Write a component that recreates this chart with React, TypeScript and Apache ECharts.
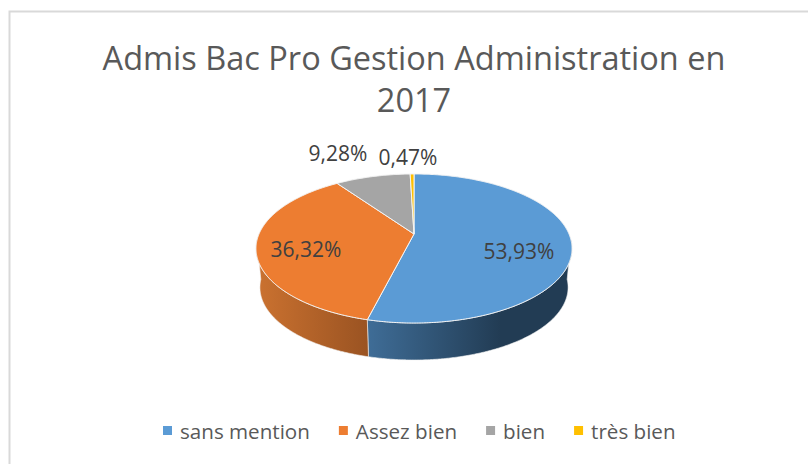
import React, { useEffect, useRef } from "react";
import * as echarts from "echarts";

const titleText = "Admis Bac Pro Gestion Administration en\n2017";
const categories = ["sans mention", "Assez bien", "bien", "très bien"];
const shares = [53.93, 36.32, 9.28, 0.47];
const labels = ["53,93%", "36,32%", "9,28%", "0,47%"];
const colors = ["#5B9BD5", "#ED7D31", "#A5A5A5", "#FFC000"];
const sideStops = [
  ["#3F6D97", "#223C54", 0.65],
  ["#CB7230", "#9A5322", 1],
  ["#7C7C7C", "#7C7C7C", 1],
  ["#BF9000", "#BF9000", 1],
];
const labelSpots = [
  [519, 251],
  [306, 249],
  [338, 153],
  [408, 157],
];

const HUB = { x: 414, y: 234 };
const R = 155;
const B = 71.7;
const K = 0.1946;
const BOTTOM = { y: 273.2, s: 0.975 };
const SIDE_FROM = 95;
const SIDE_TO = 265;

const rim = (deg: number, cy: number, s: number) => {
  const a = (deg * Math.PI) / 180;
  const w = 1 + K * Math.cos(a);
  return [HUB.x + (s * R * Math.sin(a)) / w, cy - (s * B * Math.cos(a)) / w];
};

const arc = (from: number, to: number, cy: number, s: number) => {
  const pts: number[][] = [];
  const n = Math.max(2, Math.ceil(to - from) * 2);
  for (let i = 0; i <= n; i++) pts.push(rim(from + ((to - from) * i) / n, cy, s));
  return pts;
};

export default function App() {
  const ref = useRef<HTMLDivElement>(null);
  useEffect(() => {
    document.body.style.margin = "0";
    const chart = echarts.init(ref.current!, undefined, { renderer: "svg" });
    const total = shares.reduce((a, b) => a + b, 0);
    let acc = 0;
    const ranges = shares.map((v) => {
      const start = (acc / total) * 360;
      acc += v;
      return [start, (acc / total) * 360];
    });
    const series = categories.map((name, idx) => ({
      type: "custom",
      name,
      coordinateSystem: "none",
      silent: true,
      itemStyle: { color: colors[idx] },
      data: [shares[idx]],
      renderItem: () => {
        const [a0, a1] = ranges[idx];
        const children: any[] = [];
        const s0 = Math.max(a0, SIDE_FROM);
        const s1 = Math.min(a1, SIDE_TO);
        if (s1 > s0) {
          const topEdge = arc(s0, s1, HUB.y, 1);
          const lowEdge = arc(s0, s1, BOTTOM.y, BOTTOM.s).reverse();
          const [c0, c1, stop] = sideStops[idx] as [string, string, number];
          children.push({
            type: "polygon",
            shape: { points: [...topEdge, ...lowEdge] },
            style: {
              fill: new echarts.graphic.LinearGradient(0, 0, 1, 0, [
                { offset: 0, color: c0 },
                { offset: stop, color: c1 },
                { offset: 1, color: c1 },
              ]),
              stroke: "#F2F2F2",
              lineWidth: 0.6,
            },
          });
        }
        children.push({
          type: "polygon",
          z2: 5,
          shape: { points: [[HUB.x, HUB.y], ...arc(a0, a1, HUB.y, 1)] },
          style: { fill: colors[idx], stroke: "#F4F4F4", lineWidth: 1 },
        });
        children.push({
          type: "text",
          z2: 10,
          style: {
            text: labels[idx],
            x: labelSpots[idx][0],
            y: labelSpots[idx][1],
            align: "center",
            verticalAlign: "middle",
            fill: "#404040",
            font: '21px "Open Sans"',
          },
        });
        return { type: "group", children };
      },
    }));
    chart.setOption({
      animation: false,
      backgroundColor: "#fff",
      title: {
        text: titleText,
        left: 409,
        top: 31,
        textAlign: "center",
        textStyle: {
          fontFamily: "Open Sans",
          fontSize: 32.5,
          fontWeight: "normal",
          color: "#595959",
          lineHeight: 42,
        },
      },
      legend: {
        data: categories,
        left: 163,
        top: 420,
        padding: 0,
        itemWidth: 9,
        itemHeight: 9,
        itemGap: 29,
        icon: "rect",
        textStyle: {
          fontFamily: "Open Sans",
          fontSize: 20.6,
          color: "#595959",
          padding: [0, 0, 0, 3],
        },
      },
      graphic: [
        {
          type: "polyline",
          silent: true,
          shape: { points: [[9.5, 464], [9.5, 11.5], [808, 11.5]] },
          style: { fill: "none", stroke: "#D9D9D9", lineWidth: 2 },
        },
      ],
      series,
    });
    return () => chart.dispose();
  }, []);
  return <div ref={ref} style={{ width: 808, height: 464 }} />;
}
